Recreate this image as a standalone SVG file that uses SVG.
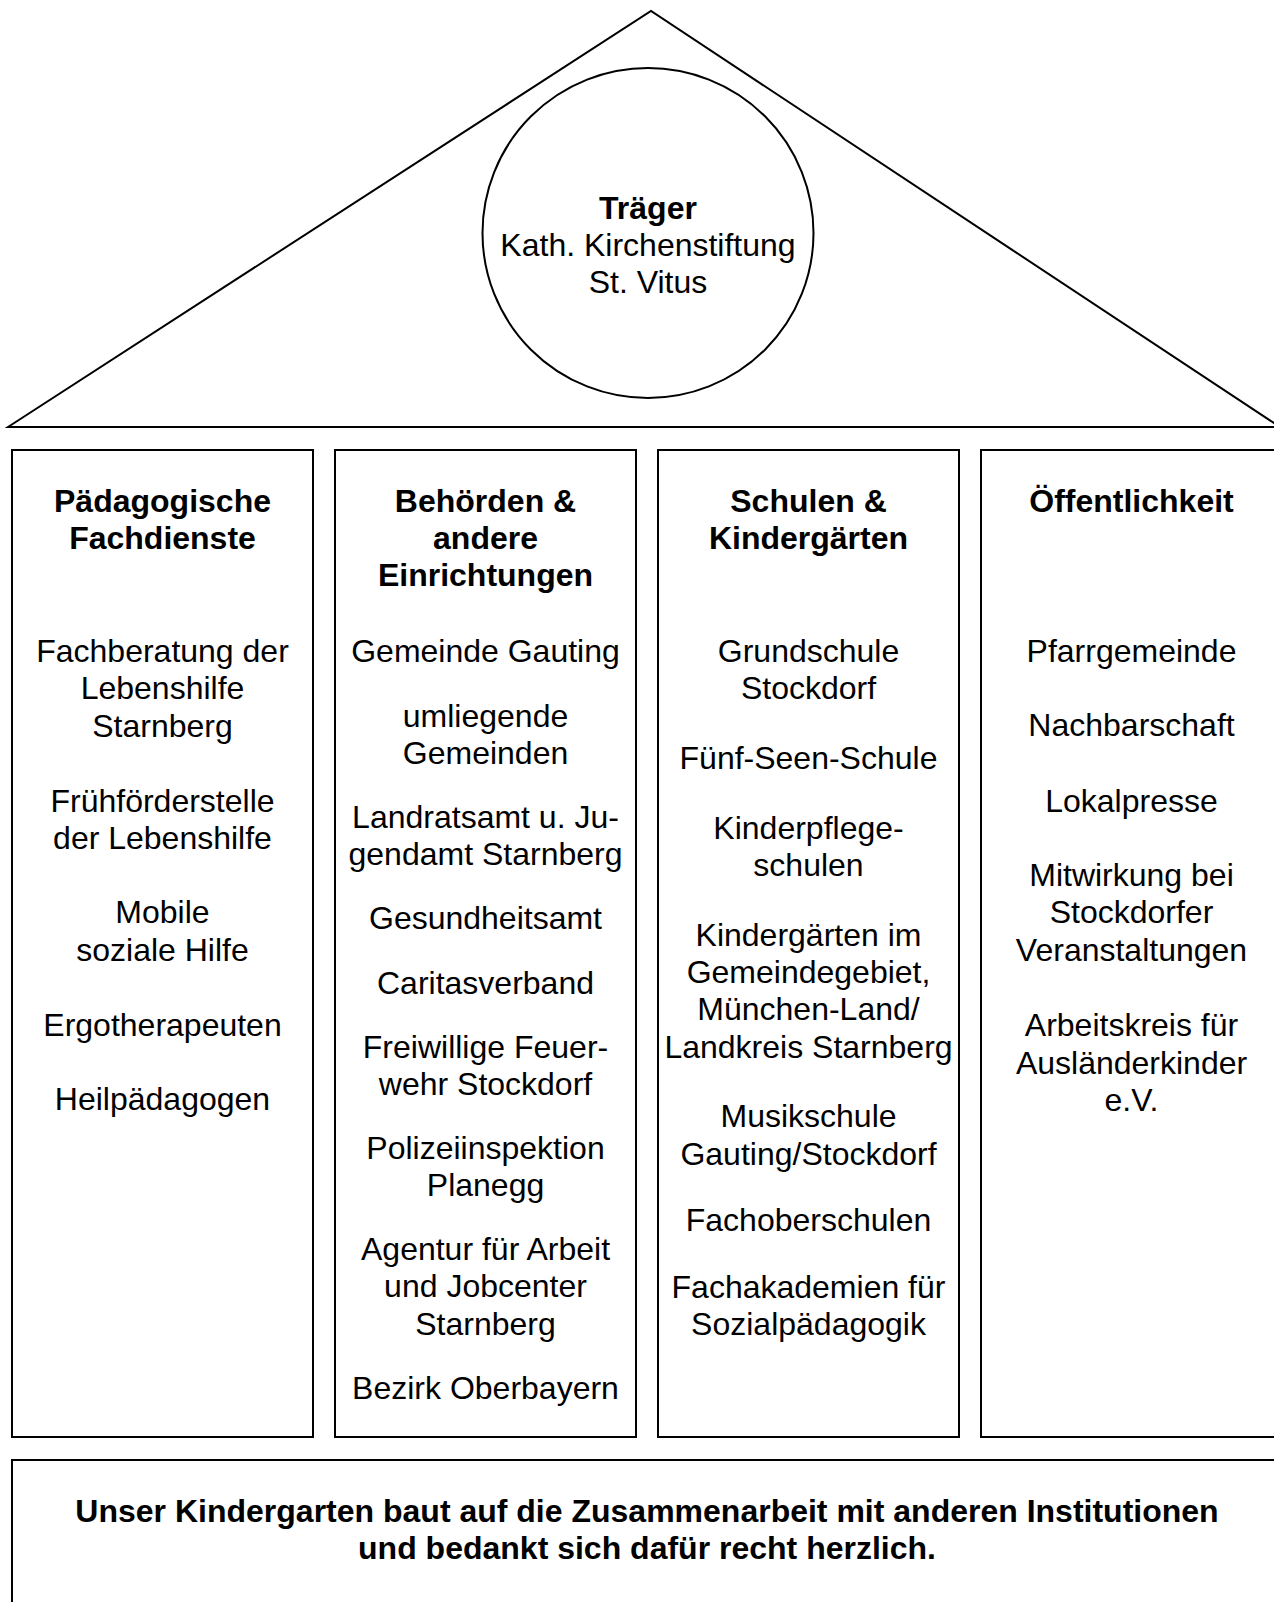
<svg xmlns="http://www.w3.org/2000/svg" width="1274" height="1602" viewBox="0 0 1274 1602">
<style>
.s{fill:#fff;stroke:#000;stroke-width:2}
text{font-family:"Liberation Sans",Arial,sans-serif;font-size:32px;fill:#000;text-anchor:middle}
.b{font-weight:bold}
</style>
<rect width="1274" height="1602" fill="#fff"/>
<g id="roof">
<polygon class="s" points="8,427 651,11 1280,427"/>
<line x1="8" y1="427" x2="1290" y2="427" stroke="#000" stroke-width="2"/>
</g>
<g id="traeger">
<ellipse class="s" cx="648" cy="233" rx="165.5" ry="165"/>
<text x="648" y="219" class="b">Träger</text>
<text x="648" y="256">Kath. Kirchenstiftung</text>
<text x="648" y="293">St. Vitus</text>
</g>
<g id="col1">
<rect class="s" x="12" y="450" width="301" height="987"/>
<text x="162.5" y="512" class="b">Pädagogische</text>
<text x="162.5" y="549" class="b">Fachdienste</text>
<text x="162.5" y="662">Fachberatung der</text>
<text x="162.5" y="699">Lebenshilfe</text>
<text x="162.5" y="737">Starnberg</text>
<text x="162.5" y="811.5">Frühförderstelle</text>
<text x="162.5" y="849">der Lebenshilfe</text>
<text x="162.5" y="923">Mobile</text>
<text x="162.5" y="961">soziale Hilfe</text>
<text x="162.5" y="1035.5">Ergotherapeuten</text>
<text x="162.5" y="1110">Heilpädagogen</text>
</g>
<g id="col2">
<rect class="s" x="335" y="450" width="301" height="987"/>
<text x="485.5" y="512" class="b">Behörden &amp;</text>
<text x="485.5" y="549" class="b">andere</text>
<text x="485.5" y="586" class="b">Einrichtungen</text>
<text x="485.5" y="662">Gemeinde Gauting</text>
<text x="485.5" y="726.5">umliegende</text>
<text x="485.5" y="763.5">Gemeinden</text>
<text x="485.5" y="827.5">Landratsamt u. Ju-</text>
<text x="485.5" y="864.5">gendamt Starnberg</text>
<text x="485.5" y="929">Gesundheitsamt</text>
<text x="485.5" y="993.5">Caritasverband</text>
<text x="485.5" y="1058">Freiwillige Feuer-</text>
<text x="485.5" y="1095">wehr Stockdorf</text>
<text x="485.5" y="1158.5">Polizeiinspektion</text>
<text x="485.5" y="1196">Planegg</text>
<text x="485.5" y="1259.5">Agentur für Arbeit</text>
<text x="485.5" y="1297">und Jobcenter</text>
<text x="485.5" y="1335">Starnberg</text>
<text x="485.5" y="1398.5">Bezirk Oberbayern</text>
</g>
<g id="col3">
<rect class="s" x="658" y="450" width="301" height="987"/>
<text x="808.5" y="512" class="b">Schulen &amp;</text>
<text x="808.5" y="549" class="b">Kindergärten</text>
<text x="808.5" y="662">Grundschule</text>
<text x="808.5" y="699">Stockdorf</text>
<text x="808.5" y="768.5">Fünf-Seen-Schule</text>
<text x="808.5" y="839">Kinderpflege-</text>
<text x="808.5" y="876">schulen</text>
<text x="808.5" y="945.5">Kindergärten im</text>
<text x="808.5" y="982.5">Gemeindegebiet,</text>
<text x="808.5" y="1020">München-Land/</text>
<text x="808.5" y="1058">Landkreis Starnberg</text>
<text x="808.5" y="1126.5">Musikschule</text>
<text x="808.5" y="1164.5">Gauting/Stockdorf</text>
<text x="808.5" y="1231">Fachoberschulen</text>
<text x="808.5" y="1297.5">Fachakademien für</text>
<text x="808.5" y="1335">Sozialpädagogik</text>
</g>
<g id="col4">
<rect class="s" x="981" y="450" width="301" height="987"/>
<text x="1131.5" y="512" class="b">Öffentlichkeit</text>
<text x="1131.5" y="662">Pfarrgemeinde</text>
<text x="1131.5" y="736">Nachbarschaft</text>
<text x="1131.5" y="811.5">Lokalpresse</text>
<text x="1131.5" y="886">Mitwirkung bei</text>
<text x="1131.5" y="923">Stockdorfer</text>
<text x="1131.5" y="961">Veranstaltungen</text>
<text x="1131.5" y="1035.5">Arbeitskreis für</text>
<text x="1131.5" y="1073.5">Ausländerkinder</text>
<text x="1131.5" y="1111">e.V.</text>
</g>
<g id="footer">
<rect class="s" x="12" y="1460" width="1270" height="170"/>
<text x="647" y="1521.5" class="b">Unser Kindergarten baut auf die Zusammenarbeit mit anderen Institutionen</text>
<text x="647" y="1559" class="b">und bedankt sich dafür recht herzlich.</text>
</g>
<g id="connectors"/>
</svg>
